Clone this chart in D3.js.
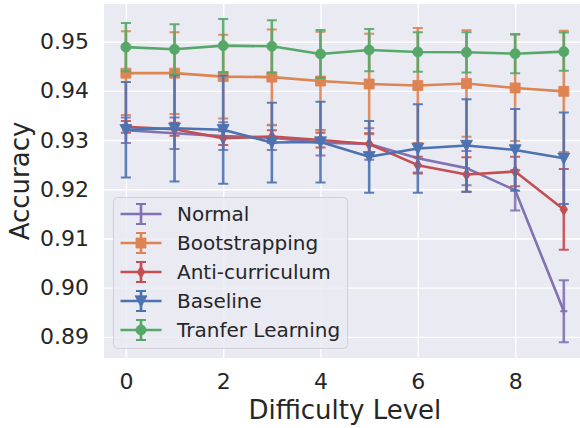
<!DOCTYPE html>
<html>
<head>
<meta charset="utf-8">
<script src="https://cdn.jsdelivr.net/npm/d3@7"></script>
<style>
  html, body { margin: 0; padding: 0; background: #ffffff; }
  svg { display: block; }
  text { font-family: "DejaVu Sans", sans-serif; fill: #262626; }
</style>
</head>
<body>
<svg id="chart" width="580" height="428"></svg>
<script>
// Difficulty levels on the x axis
const levels = [0, 1, 2, 3, 4, 5, 6, 7, 8, 9];

// Mean accuracy per method and its error (half-width of the bar)
const normal        = [0.9320, 0.9314, 0.9308, 0.9305, 0.92945, 0.9292, 0.9263, 0.9243, 0.9198, 0.8952];
const normalErr     = [0.0026, 0.0032, 0.0028, 0.0025, 0.0026, 0.0032, 0.0029, 0.0035, 0.0041, 0.0063];
const bootstrap     = [0.9436, 0.9436, 0.9429, 0.9428, 0.9420, 0.9414, 0.9411, 0.9415, 0.9406, 0.9399];
const bootstrapErr  = [0.0085, 0.0083, 0.0085, 0.0097, 0.0100, 0.0102, 0.0117, 0.0108, 0.0108, 0.0123];
const anti          = [0.9327, 0.9322, 0.9304, 0.9307, 0.9300, 0.9292, 0.9249, 0.9230, 0.9236, 0.9159];
const antiErr       = [0.0012, 0.0013, 0.0014, 0.0013, 0.0015, 0.0022, 0.0017, 0.0035, 0.0030, 0.0082];
const baseline      = [0.9321, 0.9324, 0.9321, 0.9295, 0.9296, 0.9266, 0.9283, 0.9289, 0.9280, 0.9263];
const baselineErr   = [0.0097, 0.0108, 0.0110, 0.0081, 0.0082, 0.0073, 0.0090, 0.0094, 0.0083, 0.0093];
const transfer      = [0.9489, 0.94845, 0.9492, 0.94906, 0.9475, 0.9483, 0.9479, 0.94784, 0.94756, 0.94797];
const transferErr   = [0.0049, 0.0051, 0.0054, 0.0053, 0.0049, 0.0043, 0.0040, 0.0041, 0.0040, 0.0039];

const seriesNames = ["Normal", "Bootstrapping", "Anti-curriculum", "Baseline", "Tranfer Learning"];

const xTicks = [0, 2, 4, 6, 8];
const yTicks = [0.89, 0.90, 0.91, 0.92, 0.93, 0.94, 0.95];

// Series table assembled from the arrays above
const series = [
  { name: seriesNames[0], values: normal,    errs: normalErr,    color: "#8172B3", marker: "plus" },
  { name: seriesNames[1], values: bootstrap, errs: bootstrapErr, color: "#DD8452", marker: "square" },
  { name: seriesNames[2], values: anti,      errs: antiErr,      color: "#C44E52", marker: "thindiamond" },
  { name: seriesNames[3], values: baseline,  errs: baselineErr,  color: "#4C72B0", marker: "tridown" },
  { name: seriesNames[4], values: transfer,  errs: transferErr,  color: "#55A868", marker: "circle" }
];

const svg = d3.select("#chart");
const plot = { left: 104, top: 4, right: 585.7, bottom: 358 };

const x = d3.scaleLinear().domain([-0.45, 9.45]).range([plot.left, plot.right]);
const y = d3.scaleLinear().domain([0.8857, 0.95766]).range([plot.bottom, plot.top]);

// Panel background
svg.append("rect")
  .attr("x", plot.left).attr("y", plot.top)
  .attr("width", plot.right - plot.left).attr("height", plot.bottom - plot.top)
  .attr("fill", "#EAEAF2");

svg.append("defs").append("clipPath").attr("id", "panel")
  .append("rect")
  .attr("x", plot.left).attr("y", plot.top)
  .attr("width", plot.right - plot.left).attr("height", plot.bottom - plot.top);

// Grid lines via axes with full-length ticks
const gx = svg.append("g")
  .attr("transform", `translate(0,${plot.bottom})`)
  .call(d3.axisBottom(x).tickValues(xTicks).tickSize(-(plot.bottom - plot.top)).tickPadding(10).tickFormat(d3.format("d")));
const gy = svg.append("g")
  .attr("transform", `translate(${plot.left},0)`)
  .call(d3.axisLeft(y).tickValues(yTicks).tickSize(-(plot.right - plot.left)).tickPadding(15).tickFormat(d3.format(".2f")));

[gx, gy].forEach(g => {
  g.select(".domain").remove();
  g.selectAll(".tick line").attr("stroke", "#ffffff").attr("stroke-width", 1.4);
  g.selectAll(".tick text")
    .attr("font-family", "DejaVu Sans, sans-serif")
    .attr("font-size", 22)
    .attr("fill", "#262626");
});
gx.selectAll(".tick text").attr("dy", "0.95em");

// Axis titles
svg.append("text")
  .attr("x", (plot.left + plot.right) / 2).attr("y", 419)
  .attr("text-anchor", "middle").attr("font-size", 26)
  .text("Difficulty Level");
svg.append("text")
  .attr("transform", `translate(29,${(plot.top + plot.bottom) / 2}) rotate(-90)`)
  .attr("text-anchor", "middle").attr("font-size", 26)
  .text("Accuracy");

// Marker shapes
function markerPath(kind) {
  switch (kind) {
    case "square": return "M-5,-5H5V5H-5Z";
    case "circle": return d3.symbol(d3.symbolCircle, 80)();
    case "tridown": return "M0,6L-6,-5.2H6Z";
    case "thindiamond": return "M0,-6L3.8,0L0,6L-3.8,0Z";
    case "plus": return "M-3.5,0H3.5M0,-3.5V3.5";
  }
}

const layer = svg.append("g").attr("clip-path", "url(#panel)");
const line = d3.line().x((d, i) => x(levels[i])).y(d => y(d));
const capHalf = 5;

series.forEach(s => {
  const g = layer.append("g");
  g.append("path")
    .attr("d", line(s.values))
    .attr("fill", "none").attr("stroke", s.color)
    .attr("stroke-width", 2.6).attr("stroke-linejoin", "round");
  const bars = g.selectAll("g.err").data(s.values.map((v, i) => ({ v, e: s.errs[i], lv: levels[i] })))
    .enter().append("g").attr("class", "err")
    .attr("stroke", s.color).attr("stroke-opacity", 0.9);
  bars.append("line")
    .attr("x1", d => x(d.lv)).attr("x2", d => x(d.lv))
    .attr("y1", d => y(d.v - d.e)).attr("y2", d => y(d.v + d.e))
    .attr("stroke-width", 2.6);
  [-1, 1].forEach(sign => {
    bars.append("line")
      .attr("x1", d => x(d.lv) - capHalf).attr("x2", d => x(d.lv) + capHalf)
      .attr("y1", d => y(d.v + sign * d.e)).attr("y2", d => y(d.v + sign * d.e))
      .attr("stroke-width", 2);
  });
  g.selectAll("path.mk").data(s.values.map((v, i) => ({ v, lv: levels[i] })))
    .enter().append("path").attr("class", "mk")
    .attr("transform", d => `translate(${x(d.lv)},${y(d.v)})`)
    .attr("d", markerPath(s.marker))
    .attr("fill", s.marker === "plus" ? "none" : s.color)
    .attr("stroke", s.color)
    .attr("stroke-width", s.marker === "plus" ? 1.8 : 0.8);
});

// Legend
const legend = svg.append("g");
legend.append("rect")
  .attr("x", 113.5).attr("y", 197.5).attr("width", 234).attr("height", 151)
  .attr("rx", 4).attr("ry", 4)
  .attr("fill", "#EAEAF2").attr("fill-opacity", 0.8)
  .attr("stroke", "#d0d0d6").attr("stroke-width", 1);

const legendRow = d3.scaleLinear().domain([0, 4]).range([214, 330]);
series.forEach((s, i) => {
  const cy = legendRow(i);
  const item = legend.append("g").attr("transform", `translate(141,${cy})`);
  item.append("line").attr("x1", -20.5).attr("x2", 20.5).attr("y1", 0).attr("y2", 0)
    .attr("stroke", s.color).attr("stroke-width", 2.6);
  item.append("line").attr("x1", 0).attr("x2", 0).attr("y1", -10).attr("y2", 10)
    .attr("stroke", s.color).attr("stroke-width", 2.6);
  [-10, 10].forEach(dy => item.append("line")
    .attr("x1", -capHalf).attr("x2", capHalf).attr("y1", dy).attr("y2", dy)
    .attr("stroke", s.color).attr("stroke-width", 2));
  item.append("path").attr("d", markerPath(s.marker))
    .attr("fill", s.marker === "plus" ? "none" : s.color)
    .attr("stroke", s.color).attr("stroke-width", s.marker === "plus" ? 1.8 : 0.8);
  legend.append("text")
    .attr("x", 177).attr("y", cy).attr("dy", "0.36em")
    .attr("font-size", 20)
    .text(s.name);
});
</script>
</body>
</html>
